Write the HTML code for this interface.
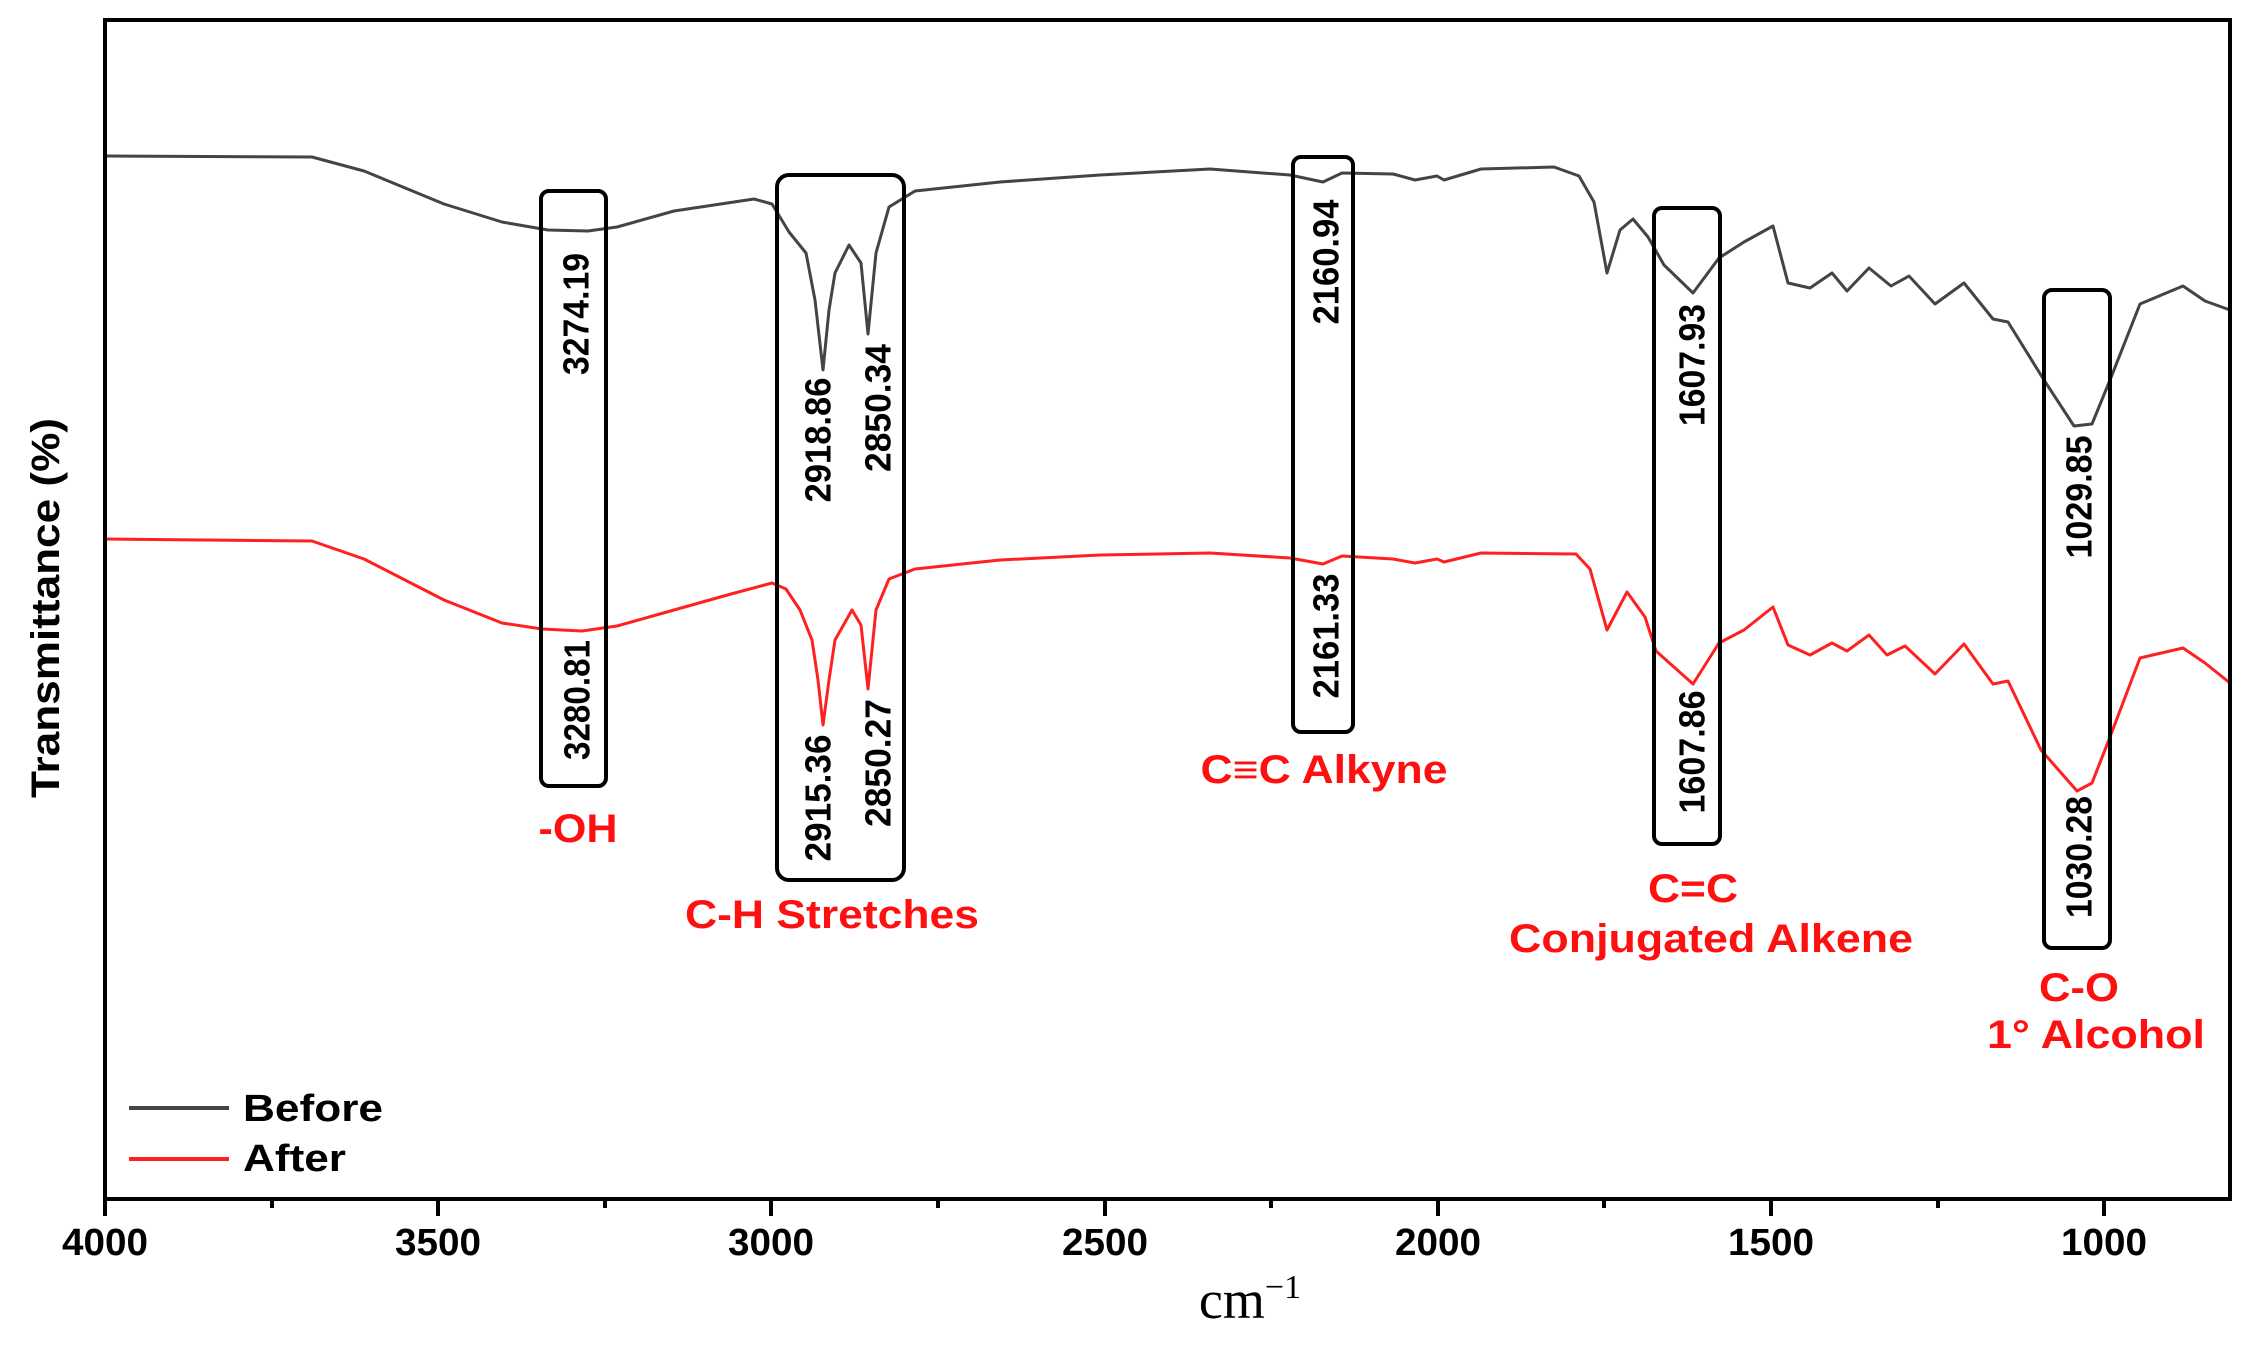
<!DOCTYPE html>
<html><head><meta charset="utf-8"><style>
html,body{margin:0;padding:0;background:#fff;}
svg{display:block;}
text{font-family:"Liberation Sans",Arial,sans-serif;font-weight:bold;}
</style></head><body>
<svg width="2248" height="1346" viewBox="0 0 2248 1346" xmlns="http://www.w3.org/2000/svg">
<rect width="2248" height="1346" fill="#fff"/>
<!-- curves -->
<polyline fill="none" stroke="#444" stroke-width="3" stroke-linejoin="round" points="105,156 312,157 364,171 444,204 502,222 548,230 588,231 617,227 674,211 754,199 772,204 789,232 806,253 815,300 823,370 829,310 835,273 849,245 861,263 868,334 876,253 889,207 915,191 1000,182 1100,175 1210,169 1290,175 1323,182 1342,173 1393,174 1415,180 1437,176 1444,180 1481,169 1554,167 1579,176 1594,202 1607,273 1620,230 1633,219 1648,237 1664,265 1693,293 1719,258 1744,242 1773,226 1788,283 1810,288 1832,273 1847,291 1869,268 1891,286 1909,276 1935,304 1964,283 1993,319 2008,322 2044,380 2074,426 2092,424 2110,380 2140,304 2183,286 2205,301 2230,310"/>
<polyline fill="none" stroke="#ff2020" stroke-width="3" stroke-linejoin="round" points="105,539 312,541 364,559 444,600 502,623 542,629 582,631 617,626 674,610 731,594 772,583 786,589 800,610 812,640 818,680 823,725 829,680 835,640 852,610 861,625 868,689 876,610 889,579 915,569 1000,560 1100,555 1210,553 1290,558 1323,564 1342,556 1393,559 1415,563 1437,559 1444,562 1481,553 1576,554 1590,569 1607,630 1627,592 1645,617 1656,651 1693,684 1719,643 1744,630 1773,607 1788,645 1810,655 1832,643 1847,651 1869,635 1887,655 1905,646 1935,674 1964,644 1993,684 2008,681 2041,750 2077,791 2092,783 2110,737 2140,658 2183,648 2205,663 2230,683"/>
<!-- boxes -->
<g fill="none" stroke="#000" stroke-width="4">
<rect x="541" y="191" width="65" height="595" rx="8"/>
<rect x="777" y="175" width="127" height="705" rx="12"/>
<rect x="1293" y="157" width="60" height="575" rx="8"/>
<rect x="1654" y="208" width="66" height="636" rx="8"/>
<rect x="2044" y="290" width="66" height="658" rx="8"/>
</g>
<!-- rotated numbers -->
<g font-size="36" fill="#000" text-anchor="middle" dominant-baseline="central">
<text transform="translate(576,314) rotate(-90)" textLength="122" lengthAdjust="spacingAndGlyphs">3274.19</text>
<text transform="translate(577,700) rotate(-90)" textLength="120" lengthAdjust="spacingAndGlyphs">3280.81</text>
<text transform="translate(818,440) rotate(-90)" textLength="125" lengthAdjust="spacingAndGlyphs">2918.86</text>
<text transform="translate(878,408) rotate(-90)" textLength="128" lengthAdjust="spacingAndGlyphs">2850.34</text>
<text transform="translate(818,798) rotate(-90)" textLength="127" lengthAdjust="spacingAndGlyphs">2915.36</text>
<text transform="translate(878,763) rotate(-90)" textLength="128" lengthAdjust="spacingAndGlyphs">2850.27</text>
<text transform="translate(1326,262) rotate(-90)" textLength="125" lengthAdjust="spacingAndGlyphs">2160.94</text>
<text transform="translate(1326,636) rotate(-90)" textLength="125" lengthAdjust="spacingAndGlyphs">2161.33</text>
<text transform="translate(1692,365) rotate(-90)" textLength="122" lengthAdjust="spacingAndGlyphs">1607.93</text>
<text transform="translate(1692,752) rotate(-90)" textLength="123" lengthAdjust="spacingAndGlyphs">1607.86</text>
<text transform="translate(2079,497) rotate(-90)" textLength="123" lengthAdjust="spacingAndGlyphs">1029.85</text>
<text transform="translate(2079,857) rotate(-90)" textLength="122" lengthAdjust="spacingAndGlyphs">1030.28</text>
</g>
<!-- red labels -->
<g font-size="40" fill="#ff1010" text-anchor="middle" dominant-baseline="central">
<text x="578" y="829" textLength="79" lengthAdjust="spacingAndGlyphs">-OH</text>
<text x="832" y="915" textLength="294" lengthAdjust="spacingAndGlyphs">C-H Stretches</text>
<text x="1324" y="770" textLength="247" lengthAdjust="spacingAndGlyphs">C≡C Alkyne</text>
<text x="1693" y="889" textLength="90" lengthAdjust="spacingAndGlyphs">C=C</text>
<text x="1711" y="939" textLength="404" lengthAdjust="spacingAndGlyphs">Conjugated Alkene</text>
<text x="2079" y="988" textLength="80" lengthAdjust="spacingAndGlyphs">C-O</text>
<text x="2096" y="1035" textLength="218" lengthAdjust="spacingAndGlyphs">1° Alcohol</text>
</g>
<!-- legend -->
<line x1="129" y1="1108" x2="229" y2="1108" stroke="#444" stroke-width="4"/>
<line x1="129" y1="1159" x2="229" y2="1159" stroke="#ff2020" stroke-width="4"/>
<g font-size="38" fill="#000" dominant-baseline="central">
<text x="243" y="1109" textLength="140" lengthAdjust="spacingAndGlyphs">Before</text>
<text x="243" y="1159" textLength="103" lengthAdjust="spacingAndGlyphs">After</text>
</g>
<!-- frame -->
<rect x="105" y="20" width="2125" height="1179" fill="none" stroke="#000" stroke-width="4"/>
<!-- ticks -->
<g stroke="#000" stroke-width="4">
<line x1="105" y1="1199" x2="105" y2="1216"/>
<line x1="438" y1="1199" x2="438" y2="1216"/>
<line x1="771" y1="1199" x2="771" y2="1216"/>
<line x1="1105" y1="1199" x2="1105" y2="1216"/>
<line x1="1438" y1="1199" x2="1438" y2="1216"/>
<line x1="1771" y1="1199" x2="1771" y2="1216"/>
<line x1="2104" y1="1199" x2="2104" y2="1216"/>
<line x1="272" y1="1199" x2="272" y2="1208"/>
<line x1="605" y1="1199" x2="605" y2="1208"/>
<line x1="938" y1="1199" x2="938" y2="1208"/>
<line x1="1271" y1="1199" x2="1271" y2="1208"/>
<line x1="1604" y1="1199" x2="1604" y2="1208"/>
<line x1="1938" y1="1199" x2="1938" y2="1208"/>
</g>
<g font-size="38" fill="#000" text-anchor="middle" dominant-baseline="central">
<text x="105" y="1243" textLength="86" lengthAdjust="spacingAndGlyphs">4000</text>
<text x="438" y="1243" textLength="86" lengthAdjust="spacingAndGlyphs">3500</text>
<text x="771" y="1243" textLength="86" lengthAdjust="spacingAndGlyphs">3000</text>
<text x="1105" y="1243" textLength="86" lengthAdjust="spacingAndGlyphs">2500</text>
<text x="1438" y="1243" textLength="86" lengthAdjust="spacingAndGlyphs">2000</text>
<text x="1771" y="1243" textLength="86" lengthAdjust="spacingAndGlyphs">1500</text>
<text x="2104" y="1243" textLength="86" lengthAdjust="spacingAndGlyphs">1000</text>
</g>
<text x="1250" y="1318" font-size="54" text-anchor="middle" style="font-family:'Liberation Serif',serif;font-weight:normal">cm<tspan font-size="34" dy="-20">−1</tspan></text>
<text transform="translate(46,608) rotate(-90)" font-size="40" text-anchor="middle" dominant-baseline="central" textLength="380" lengthAdjust="spacingAndGlyphs">Transmittance (%)</text>
</svg>
</body></html>
